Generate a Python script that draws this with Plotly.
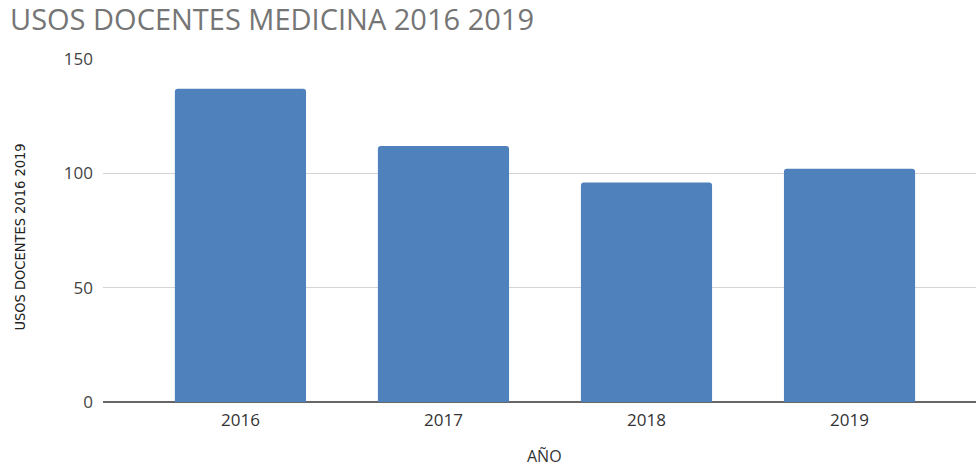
import plotly.graph_objects as go

# Docent uses per year (Medicina)
years = ["2016", "2017", "2018", "2019"]
usos = [137, 112, 96, 102]
y_ticks = [0, 50, 100, 150]

BAR_BLUE = "#4f81bd"
TEXT_FONT = "Open Sans, Liberation Sans, sans-serif"
NARROW_FONT = "Liberation Sans Narrow, DejaVu Sans Condensed, Arial Narrow, sans-serif"

fig = go.Figure(
    go.Bar(
        x=list(range(len(years))),
        y=usos,
        marker=dict(color=BAR_BLUE, cornerradius=3, line=dict(width=0)),
        hoverinfo="x+y",
    )
)

fig.update_layout(
    width=976,
    height=468,
    margin=dict(l=103, r=0, t=59, b=66),
    paper_bgcolor="white",
    plot_bgcolor="white",
    showlegend=False,
    bargap=0.354,
    title=dict(
        text="USOS DOCENTES MEDICINA 2016 2019",
        x=10 / 976,
        xanchor="left",
        xref="container",
        y=1 - 20 / 468,
        yanchor="middle",
        yref="container",
        font=dict(family=TEXT_FONT, size=29, color="#757575"),
    ),
    xaxis=dict(
        range=[-0.677, 3.623],
        tickmode="array",
        tickvals=list(range(len(years))),
        ticktext=years,
        showgrid=False,
        zeroline=False,
        showline=False,
        ticks="",
        ticklabelstandoff=6,
        tickfont=dict(family=TEXT_FONT, size=17, color="#333333"),
    ),
    yaxis=dict(
        range=[0, 150],
        tickmode="array",
        tickvals=y_ticks,
        showgrid=True,
        gridcolor="#d4d4d4",
        gridwidth=1,
        zeroline=True,
        zerolinecolor="#666666",
        zerolinewidth=1.5,
        showline=False,
        ticks="",
        ticklabelstandoff=9,
        tickfont=dict(family=TEXT_FONT, size=17, color="#444444"),
    ),
    annotations=[
        # y-axis title, drawn rotated beside the tick labels
        dict(
            text="USOS DOCENTES 2016 2019",
            xref="paper",
            yref="paper",
            x=-(103 - 19) / 873,
            y=(402 - 237.5) / 343,
            xanchor="center",
            yanchor="middle",
            textangle=-90,
            showarrow=False,
            font=dict(family=NARROW_FONT, size=14.5, color="#222222"),
        ),
        # x-axis title
        dict(
            text="AÑO",
            xref="paper",
            yref="paper",
            x=(544 - 103) / 873,
            y=-(456 - 402) / 343,
            xanchor="center",
            yanchor="middle",
            showarrow=False,
            borderpad=0,
            font=dict(family=TEXT_FONT, size=16, color="#333333"),
        ),
    ],
)

fig.write_html("out.html")
